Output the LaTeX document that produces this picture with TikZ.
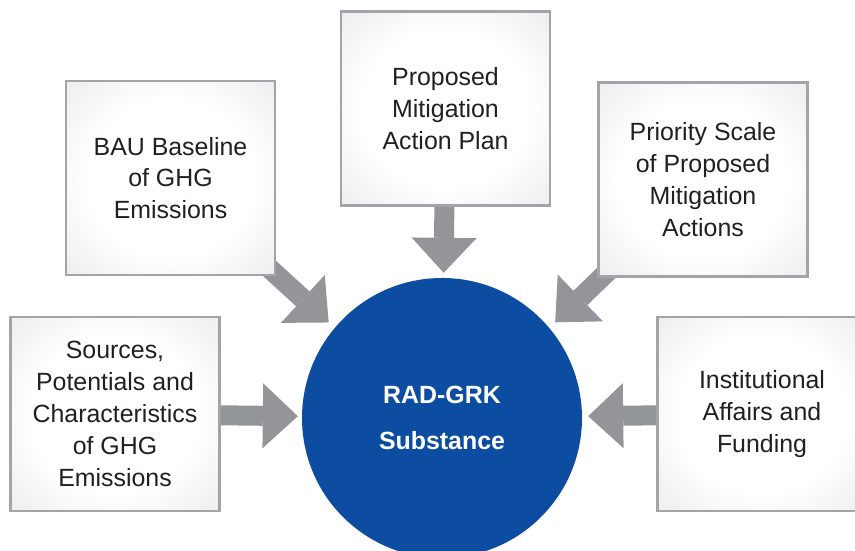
\documentclass[tikz,border=0pt]{standalone}
\usepackage{fontspec}
\setmainfont{Liberation Sans}
\usepackage{tikz}
\usetikzlibrary{arrows.meta,backgrounds}
\definecolor{ddbluu}{rgb}{0.051,0.302,0.631}
\definecolor{arrgry}{rgb}{0.576,0.584,0.596}
\definecolor{boxgry}{rgb}{0.635,0.643,0.655}
\definecolor{edggry}{rgb}{0.862,0.866,0.875}
\definecolor{txtgry}{rgb}{0.137,0.122,0.125}
\pgfdeclareradialshading{boxshade}{\pgfpoint{0bp}{0bp}}{color(0bp)=(white); color(20bp)=(white); color(50bp)=(edggry); color(72bp)=(edggry!93!black)}

\begin{document}
\begin{tikzpicture}[x=1bp,y=1bp,line join=miter,
  infobox/.style={draw=boxgry,line width=2.5bp,shading=boxshade,minimum width=209bp,minimum height=194bp,inner sep=0pt,align=center,text=txtgry,font=\fontsize{25}{32}\selectfont},
  bigarrow/.style={draw=arrgry,line width=20bp,line cap=butt,-{Triangle[length=35bp,width=65bp,line width=0pt]}}]
\clip (0,0) rectangle (855,551);
% boxes round the circle
\node[infobox] (prop) at (445.5,442.5) {Proposed\\Mitigation\\Action Plan};
\node[infobox] (bau) at (170.5,373) {BAU Baseline\\of GHG\\Emissions};
\node[infobox] (prio) at (703,371.5) {Priority Scale\\of Proposed\\Mitigation\\Actions};
\node[infobox] (src) at (115,137) {Sources,\\Potentials and\\Characteristics\\of GHG\\Emissions};
\node[infobox] (inst) at (762,137) {Institutional\\Affairs and\\Funding};
% centre
\node[circle,fill=ddbluu,minimum size=280bp,inner sep=0pt,text=white,align=center,font=\bfseries\fontsize{25}{46}\selectfont] (rad) at (442,133) {RAD-GRK\\Substance};
% arrows
\begin{scope}[on background layer]
\draw[bigarrow,shorten >=5bp] (prop) -- (rad);
\draw[bigarrow,shorten >=8bp] (bau.center) -- (rad.140);
\draw[bigarrow,shorten >=8bp] (prio.center) -- (rad.40);
\draw[bigarrow,shorten >=4bp] (src) -- (rad);
\draw[bigarrow,shorten >=6bp] (inst) -- (rad);
\end{scope}
\end{tikzpicture}
\end{document}
